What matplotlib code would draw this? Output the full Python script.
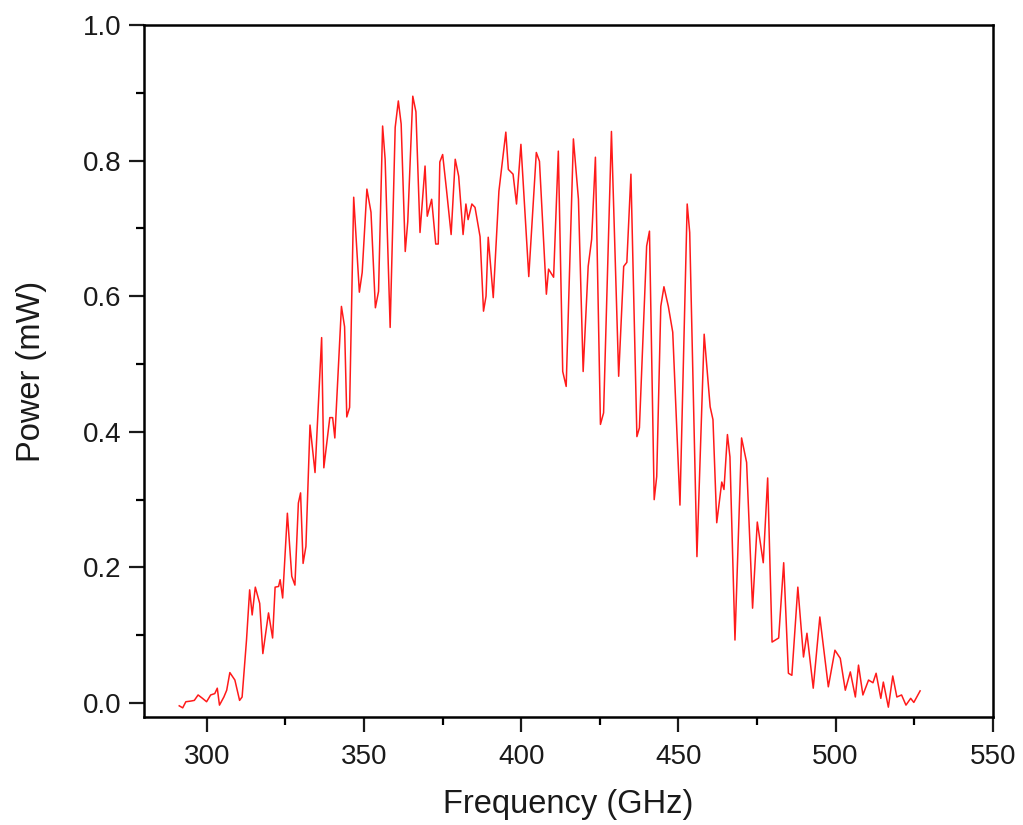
import matplotlib
matplotlib.use('Agg')
from matplotlib import pyplot as plt
from matplotlib.ticker import MultipleLocator, FormatStrFormatter

# spectrum (frequency in GHz, power in mW)
freq = [
    291.2, 292.3, 293.3, 294.9, 296.0, 297.2, 298.6, 299.9, 301.2, 302.5,
    303.3, 304.0, 305.4, 306.3, 307.3, 308.9, 310.4, 311.2, 312.6, 313.6,
    314.4, 315.4, 316.8, 317.8, 319.6, 320.9, 321.7, 322.8, 323.3, 324.1,
    325.6, 327.0, 328.0, 329.1, 329.8, 330.6, 331.5, 332.8, 334.4, 336.5,
    337.2, 339.1, 340.0, 340.7, 342.8, 343.8, 344.5, 345.4, 346.7, 348.5,
    349.4, 350.9, 352.2, 353.6, 354.6, 355.9, 356.7, 358.3, 359.9, 360.9,
    361.8, 363.1, 363.9, 365.5, 366.5, 367.8, 369.4, 370.1, 371.5, 372.8,
    373.6, 374.1, 375.0, 376.2, 377.7, 379.0, 380.1, 381.5, 382.4, 383.1,
    384.3, 385.3, 386.9, 388.0, 388.8, 389.5, 391.1, 392.9, 395.1, 395.9,
    397.4, 398.5, 399.9, 402.4, 404.8, 405.8, 408.0, 408.7, 410.3, 411.8,
    413.2, 414.3, 416.6, 418.2, 419.7, 421.3, 422.4, 423.6, 425.2, 426.2,
    428.7, 431.0, 432.6, 433.6, 434.9, 436.8, 437.6, 439.9, 440.8, 442.3,
    443.1, 444.4, 445.4, 446.8, 448.2, 450.5, 452.8, 453.6, 455.9, 458.2,
    460.1, 461.0, 462.2, 463.8, 464.5, 465.6, 466.4, 468.0, 470.1, 471.7,
    473.6, 475.1, 477.0, 478.4, 479.8, 481.9, 483.5, 485.0, 486.1, 488.0,
    489.8, 490.9, 492.9, 495.0, 497.7, 499.8, 501.5, 503.1, 504.7, 506.3,
    507.3, 508.7, 510.5, 511.9, 512.9, 514.4, 515.2, 516.8, 518.2, 519.5,
    521.0, 522.4, 523.9, 524.9, 526.9,
]
power = [
    -0.004, -0.007, 0.002, 0.003, 0.004, 0.012, 0.007, 0.002, 0.012, 0.014,
    0.022, -0.003, 0.009, 0.019, 0.045, 0.034, 0.004, 0.009, 0.093, 0.167,
    0.130, 0.171, 0.147, 0.073, 0.133, 0.096, 0.171, 0.172, 0.182, 0.155,
    0.280, 0.187, 0.174, 0.295, 0.310, 0.206, 0.231, 0.410, 0.340, 0.539,
    0.347, 0.421, 0.421, 0.391, 0.585, 0.555, 0.422, 0.436, 0.746, 0.606,
    0.635, 0.758, 0.724, 0.583, 0.607, 0.851, 0.802, 0.554, 0.849, 0.888,
    0.854, 0.666, 0.710, 0.895, 0.872, 0.694, 0.792, 0.718, 0.743, 0.677,
    0.677, 0.798, 0.809, 0.758, 0.691, 0.802, 0.777, 0.691, 0.736, 0.713,
    0.736, 0.731, 0.688, 0.578, 0.600, 0.687, 0.598, 0.755, 0.842, 0.787,
    0.780, 0.736, 0.824, 0.629, 0.812, 0.799, 0.603, 0.640, 0.628, 0.814,
    0.489, 0.467, 0.832, 0.743, 0.489, 0.644, 0.684, 0.805, 0.411, 0.428,
    0.843, 0.482, 0.644, 0.650, 0.780, 0.393, 0.406, 0.674, 0.696, 0.300,
    0.334, 0.585, 0.614, 0.585, 0.547, 0.292, 0.736, 0.694, 0.216, 0.544,
    0.437, 0.418, 0.266, 0.326, 0.315, 0.396, 0.363, 0.093, 0.391, 0.355,
    0.140, 0.267, 0.207, 0.332, 0.090, 0.096, 0.207, 0.044, 0.041, 0.171,
    0.068, 0.103, 0.022, 0.127, 0.024, 0.078, 0.066, 0.019, 0.046, 0.009,
    0.056, 0.012, 0.034, 0.030, 0.044, 0.007, 0.031, -0.006, 0.040, 0.009,
    0.012, -0.003, 0.007, 0.001, 0.018,
]

plt.rcParams['font.family'] = ['Liberation Sans', 'DejaVu Sans']

fig = plt.figure(figsize=(10.23, 8.25), dpi=100)
ax = fig.add_axes([0.1408, 0.1305, 0.8296, 0.8392])

ax.plot(freq, power, color='#ff1a1a', linewidth=1.1)

ax.set_xlim(280, 550)
ax.set_ylim(-0.021, 1.0)
ax.xaxis.set_major_locator(MultipleLocator(50))
ax.xaxis.set_minor_locator(MultipleLocator(25))
ax.yaxis.set_major_locator(MultipleLocator(0.2))
ax.yaxis.set_minor_locator(MultipleLocator(0.1))
ax.yaxis.set_major_formatter(FormatStrFormatter('%.1f'))

ax.tick_params(which='major', direction='out', length=11, width=1.6,
               labelsize=20, colors='#1a1a1a', pad=5)
ax.tick_params(which='minor', direction='out', length=6, width=1.6)
ax.tick_params(axis='x', which='major', pad=8)
for s in ax.spines.values():
    s.set_linewidth(1.8)

ax.set_xlabel('Frequency (GHz)', fontsize=23.5, color='#1a1a1a')
ax.set_ylabel('Power (mW)', fontsize=23.5, color='#1a1a1a')
ax.xaxis.set_label_coords(0.5, -0.103)
ax.yaxis.set_label_coords(-0.114, 0.5)

plt.savefig('out.png', dpi=100)
